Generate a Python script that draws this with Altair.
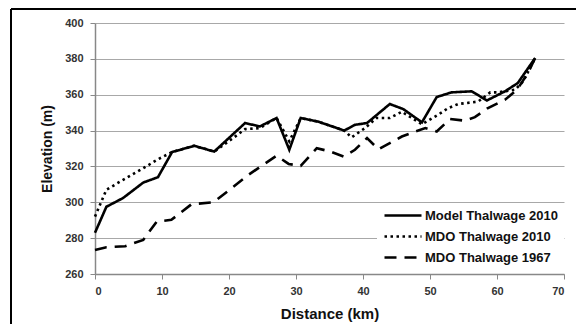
import altair as alt
import pandas as pd

# ---- data ----
model_x = [0, 1.7, 4.2, 7.2, 9.4, 11.5, 14.8, 17.8, 22.4, 24.6, 27.1, 29.0, 30.7, 33.3,
           37.2, 38.8, 40.6, 44.0, 46.0, 48.8, 51.0, 53.2, 56.2, 58.5, 61.2, 63.1, 65.7]
model_y = [283, 297.5, 302.4, 311, 314, 328, 331.5, 328.3, 344.2, 342.3, 347, 329.3, 347, 345,
           340, 343.2, 344.2, 354.8, 352, 344.6, 358.7, 361.3, 361.9, 356.8, 361.9, 366.5, 380.5]

mdo10_x = [0, 1.7, 4.2, 7.2, 9.4, 11.5, 14.8, 17.8, 20.6, 22.4, 24.6, 27.1, 29.0, 30.7, 33.3,
           37.2, 38.3, 40.3, 42.0, 44.0, 45.8, 48.8, 51.2, 52.7, 54.2, 57.2, 59.0, 60.1, 62.7, 63.9, 65.7]
mdo10_y = [292, 307, 312.5, 319, 324, 328, 331.5, 328.3, 335.8, 340.8, 341.4, 347, 334, 347, 345,
           340, 336.2, 341.4, 347, 347, 350.5, 343.5, 348.8, 352.5, 354.8, 356.2, 361.3, 361.3, 362.8, 367.4, 380.5]

mdo67_x = [0, 1.7, 4.5, 7.2, 9.2, 11.4, 14.4, 17.7, 22.9, 27.1, 28.9, 30.7, 33.1, 35.1, 37.1,
           38.8, 40.6, 42.3, 44.0, 45.8, 47.8, 49.3, 51.0, 53.0, 55.2, 56.7, 58.5, 61.2, 63.0, 64.6, 65.7]
mdo67_y = [273.4, 274.9, 275.5, 279, 289.2, 290.2, 298.9, 300, 315.3, 326, 321.4, 320.3, 330.2, 328.3, 325.5,
           329.3, 335.8, 329.6, 333, 336.7, 339.5, 341.4, 339.5, 346.5, 345.5, 347.5, 352.2, 357.2, 362.8, 372, 380.5]

series_names = ["Model Thalwage 2010", "MDO Thalwage 2010", "MDO Thalwage 1967"]
x_ticks = [0, 10, 20, 30, 40, 50, 60, 70]
y_ticks = [260, 280, 300, 320, 340, 360, 380, 400]

rows = []
for name, xs, ys in zip(series_names, [model_x, mdo10_x, mdo67_x], [model_y, mdo10_y, mdo67_y]):
    for i, (a, b) in enumerate(zip(xs, ys)):
        rows.append({"series": name, "dist": a, "elev": b, "order": i})
df = pd.DataFrame(rows)

FONT = "Liberation Sans"

lines = alt.Chart(df).mark_line(strokeWidth=2.6, color="black", strokeCap="butt").encode(
    x=alt.X("dist:Q", scale=alt.Scale(domain=[0, 70], nice=False, zero=False),
            axis=alt.Axis(values=x_ticks, title="Distance (km)", grid=False, tickSize=5,
                          labelPadding=6, titlePadding=10)),
    y=alt.Y("elev:Q", scale=alt.Scale(domain=[260, 400], nice=False, zero=False),
            axis=alt.Axis(values=y_ticks, title="Elevation (m)", grid=True, tickSize=5,
                          labelPadding=7, titlePadding=10)),
    strokeDash=alt.StrokeDash("series:N",
        scale=alt.Scale(domain=series_names, range=[[1, 0], [2.5, 3.5], [12, 8]]),
        sort=series_names,
        legend=alt.Legend(title=None, orient="none", legendX=282, legendY=180,
                          symbolType="M-1,0H6.4", symbolSize=100, symbolStrokeWidth=2.5,
                          symbolStrokeColor="black", labelFont=FONT, labelFontSize=13,
                          labelFontWeight="bold", labelColor="#111", fillColor="white",
                          padding=6, rowPadding=7, labelOffset=29)),
    order="order:Q",
)

frame_left = alt.Chart(df).mark_rule(color="black", strokeWidth=2).encode(
    x=alt.value(-84), y=alt.value(-14), y2=alt.value(330))
frame_top = alt.Chart(df).mark_rule(color="black", strokeWidth=2).encode(
    x=alt.value(-84), x2=alt.value(500), y=alt.value(-14))

chart = alt.layer(lines, frame_left, frame_top).properties(
    width=469, height=251,
    autosize=alt.AutoSizeParams(type="none"),
    padding={"left": 87, "top": 15, "right": 12, "bottom": 50},
).configure_view(stroke=None).configure_axis(
    labelFont=FONT, labelFontSize=11, labelFontWeight="bold", labelColor="#333",
    titleFont=FONT, titleFontWeight="bold", titleColor="#111",
    domainColor="#888", tickColor="#888", gridColor="#a8a8a8", domainWidth=1.5,
).configure_axisX(titleFontSize=15).configure_axisY(titleFontSize=14)

chart.save("out.html", embed_options={"renderer": "svg", "actions": False})
